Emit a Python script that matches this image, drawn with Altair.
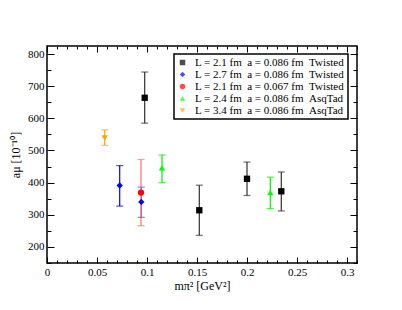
import altair as alt
import pandas as pd

NB = "\u00a0"
labels = [
    f"L = 2.1 fm{NB}{NB}a = 0.086 fm{NB}{NB}Twisted",
    f"L = 2.7 fm{NB}{NB}a = 0.086 fm{NB}{NB}Twisted",
    f"L = 2.1 fm{NB}{NB}a = 0.067 fm{NB}{NB}Twisted",
    f"L = 2.4 fm{NB}{NB}a = 0.086 fm{NB}{NB}AsqTad",
    f"L = 3.4 fm{NB}{NB}a = 0.086 fm{NB}{NB}AsqTad",
]
colors = ["#000000", "#0000ff", "#ff0000", "#00ff00", "#ffa500"]
shapes = ["square", "diamond", "circle", "triangle-up", "triangle-down"]

series = [0, 0, 0, 0, 1, 1, 2, 3, 3, 4]
mpi2 = [0.0977, 0.1523, 0.2, 0.2343, 0.0727, 0.0943, 0.094, 0.115, 0.2233, 0.0577]
amu = [664, 314, 412, 373, 391, 340, 369, 446, 369, 539]
amu_lo = [585, 236, 360, 312, 327, 292, 266, 400, 319, 516]
amu_hi = [744, 392, 464, 433, 453, 386, 472, 486, 417, 564]
err_colors = ["#303030", "#303030", "#303030", "#303030",
              "#0000ff", "#5050ff", "#ff7070", "#00ee00", "#00ee00", "#ffa500"]

x_major = [0, 0.05, 0.1, 0.15, 0.2, 0.25, 0.3]
x_minor = [round(i * 0.01, 2) for i in range(32) if i % 5 != 0]
y_major = [200, 300, 400, 500, 600, 700, 800]
y_minor = [150, 250, 350, 450, 550, 650, 750]

df = pd.DataFrame({
    "label": [labels[s] for s in series],
    "x": mpi2, "y": amu, "lo": amu_lo, "hi": amu_hi, "ec": err_colors,
})

FONT = "Liberation Serif"
xs = alt.Scale(domain=[0, 0.31], nice=False, zero=False)
ys = alt.Scale(domain=[150, 825], nice=False, zero=False)


def tick_axis(orient, values, size):
    return alt.Axis(orient=orient, values=values, labels=False, domain=False,
                    grid=False, ticks=True, tickSize=size, offset=-size,
                    tickColor="black", tickWidth=1, title=None)


def axis_layer(xaxis, yaxis):
    return alt.Chart(df).mark_point(opacity=0).encode(
        x=alt.X("x:Q", scale=xs, axis=xaxis),
        y=alt.Y("y:Q", scale=ys, axis=yaxis),
    )


label_layer = axis_layer(
    alt.Axis(orient="bottom", values=x_major, ticks=False, domain=False, grid=False,
             format="~g", labelFont=FONT, labelFontSize=11, labelColor="black",
             labelPadding=3, labelFlush=False,
             title="mπ² [GeV²]", titleFont=FONT, titleFontSize=12,
             titleFontWeight="normal", titleColor="black", titlePadding=3),
    alt.Axis(orient="left", values=y_major, ticks=False, domain=False, grid=False,
             format="d", labelFont=FONT, labelFontSize=11, labelColor="black",
             labelPadding=3,
             title="aμ [10⁻¹⁰]", titleFont=FONT, titleFontSize=12,
             titleFontWeight="normal", titleColor="black", titlePadding=5),
)
l2 = axis_layer(tick_axis("bottom", x_major, 6), tick_axis("left", y_major, 7))
l3 = axis_layer(tick_axis("bottom", x_minor, 3), tick_axis("left", y_minor, 4))
l4 = axis_layer(tick_axis("top", x_major, 6), tick_axis("right", y_major, 7))
l5 = axis_layer(tick_axis("top", x_minor, 3), tick_axis("right", y_minor, 4))

bars = alt.Chart(df).mark_rule(strokeWidth=1.2).encode(
    x=alt.X("x:Q", scale=xs, axis=None),
    y=alt.Y("lo:Q", scale=ys, axis=None),
    y2="hi:Q",
    color=alt.Color("ec:N", scale=None),
)
caps_lo = alt.Chart(df).mark_tick(orient="horizontal", size=7, thickness=1.2).encode(
    x=alt.X("x:Q", scale=xs, axis=None),
    y=alt.Y("lo:Q", scale=ys, axis=None),
    color=alt.Color("ec:N", scale=None),
)
caps_hi = alt.Chart(df).mark_tick(orient="horizontal", size=7, thickness=1.2).encode(
    x=alt.X("x:Q", scale=xs, axis=None),
    y=alt.Y("hi:Q", scale=ys, axis=None),
    color=alt.Color("ec:N", scale=None),
)

leg = alt.Legend(title=None, orient="none", legendX=127, legendY=8,
                 labelFont=FONT, labelFontSize=11, labelColor="black", labelLimit=0,
                 symbolSize=30, symbolStrokeWidth=0, rowPadding=0,
                 padding=3, strokeColor="black", fillColor="white",
                 labelOffset=7, symbolOffset=0)

points = alt.Chart(df).mark_point(filled=True, size=40, opacity=1).encode(
    x=alt.X("x:Q", scale=xs, axis=None),
    y=alt.Y("y:Q", scale=ys, axis=None),
    color=alt.Color("label:N", scale=alt.Scale(domain=labels, range=colors), legend=leg),
    shape=alt.Shape("label:N", scale=alt.Scale(domain=labels, range=shapes), legend=leg),
)

chart = alt.layer(label_layer, l2, l3, l4, l5, bars, caps_lo, caps_hi, points).resolve_axis(
    x="independent", y="independent"
).properties(
    width=310, height=217, autosize="none",
    padding={"left": 39, "top": 38, "right": 37, "bottom": 39},
    background="white",
).configure_view(stroke="black", strokeWidth=1.5).configure_legend(
    strokeWidth=1.5, cornerRadius=0
)

chart.save("out.html", embed_options={"renderer": "svg", "actions": False})
